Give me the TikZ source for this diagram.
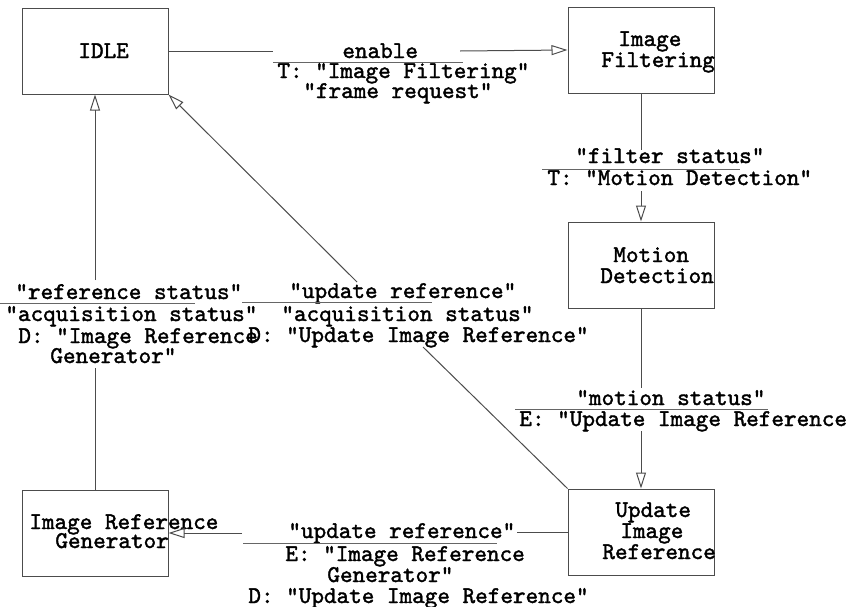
\documentclass[tikz,border=0pt]{standalone}
\usepackage{fontspec}
\newfontfamily\typefont{lmmono10-regular.otf}[FakeBold=1.6]
\usetikzlibrary{arrows.meta}
\begin{document}
\begin{tikzpicture}[x=0.5pt,y=-0.5pt,
  state/.style={draw=black!70, line width=0.5pt, minimum width=73pt,
    minimum height=43pt, inner sep=0pt},
  txt/.style={anchor=base west, inner sep=0pt,
    font=\typefont\fontsize{12pt}{12pt}\selectfont},
  conn/.style={draw=black!70, line width=0.5pt},
  tip/.style={conn, -{Triangle[open,length=8pt,width=5pt]}},
  rule/.style={draw=black!60, line width=0.5pt}]
\useasboundingbox (0,0) rectangle (857,606);

% states
\node[state] (idle) at (95,51)  {};
\node[state] (filt) at (641,50) {};
\node[state] (moti) at (641,265) {};
\node[state] (upd)  at (641,532) {};
\node[state] (gen)  at (95,533) {};

% state names
\node[txt] (tIdle) at (78,58) {IDLE};
\node[txt] (tFilt1) at (618,46) {Image};
\node[txt] (tFilt2) at (601,67) {Filtering};
\node[txt] (tMot1) at (613,262) {Motion};
\node[txt] (tMot2) at (600,283) {Detection};
\node[txt] (tUpd1) at (615,517) {Update};
\node[txt] (tUpd2) at (620,538) {Image};
\node[txt] (tUpd3) at (602,559) {Reference};
\node[txt] (tGen1) at (29,529) {Image Reference};
\node[txt] (tGen2) at (55,548) {Generator};

% ends of the connector pieces on either side of each label
\coordinate (a1) at (273,51);  \coordinate (a2) at (460,51);
\coordinate (b1) at (641,150); \coordinate (b2) at (641,191);
\coordinate (c1) at (641,388); \coordinate (c2) at (641,431);
\coordinate (d1) at (517,532); \coordinate (d2) at (242,533);
\coordinate (e1) at (423,347); \coordinate (e2) at (357,282);
\coordinate (f1) at (95,368);  \coordinate (f2) at (95,280);

% transitions
\draw[conn] (idle.east) -- (a1);
\draw[tip]  (a2) -- (filt.west);
\draw[conn] (filt.south) -- (b1);
\draw[tip]  (b2) -- (moti.north);
\draw[conn] (moti.south) -- (c1);
\draw[tip]  (c2) -- (upd.north);
\draw[conn] (upd.west) -- (d1);
\draw[tip]  (d2) -- (gen.east);
\draw[conn] (upd.north west) -- (e1);
\draw[tip]  (e2) -- (idle.south east);
\draw[conn] (gen.north) -- (f1);
\draw[tip]  (f2) -- (idle.south);

% label: IDLE -> Image Filtering
\node[txt] (la1) at (342,58) {enable};
\draw[rule] (273,62) -- (463,62);
\node[txt] (la2) at (277,78) {T: "Image Filtering"};
\node[txt] (la3) at (303,98) {"frame request"};

% label: Image Filtering -> Motion Detection
\node[txt] (lb1) at (575,163) {"filter status"};
\draw[rule] (542,169) -- (740,169);
\node[txt] (lb2) at (547,185) {T: "Motion Detection"};

% label: Motion Detection -> Update Image Reference
\node[txt] (lc1) at (576,405) {"motion status"};
\draw[rule] (515,409) -- (768,409);
\node[txt] (lc2) at (519,426) {E: "Update Image Reference};

% label: Update Image Reference -> Image Reference Generator
\node[txt] (ld1) at (288,538) {"update reference"};
\draw[rule] (243,543) -- (497,543);
\node[txt] (ld2) at (285,561) {E: "Image Reference};
\node[txt] (ld3) at (327,582) {Generator"};
\node[txt] (ld4) at (248,603) {D: "Update Image Reference"};

% label: Update Image Reference -> IDLE
\node[txt] (le1) at (289,298) {"update reference"};
\draw[rule] (242,302) -- (432,302);
\node[txt] (le2) at (281,321) {"acquisition status"};
\node[txt] (le3) at (248,342) {D: "Update Image Reference"};

% label: Image Reference Generator -> IDLE
\node[txt] (lf1) at (15,299) {"reference status"};
\draw[rule] (0,303) -- (195,303);
\node[txt] (lf2) at (5,321) {"acquisition status"};
\node[txt] (lf3) at (18,343) {D: "Image Reference};
\node[txt] (lf4) at (50,363) {Generator"};
\end{tikzpicture}
\end{document}
